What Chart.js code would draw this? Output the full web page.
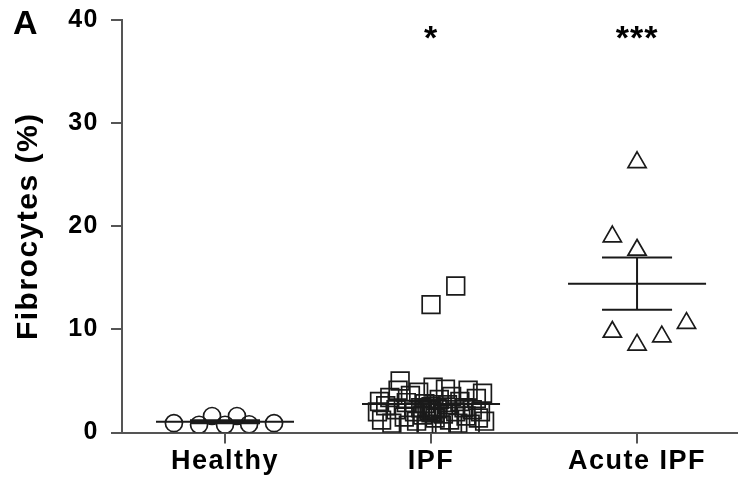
<!DOCTYPE html>
<html>
<head>
<meta charset="utf-8">
<script src="https://cdn.jsdelivr.net/npm/chart.js@4"></script>
<style>
  body { margin: 0; background: #fff; }
  #wrap { width: 738px; height: 485px; }
</style>
</head>
<body>
<div id="wrap"><canvas id="grafico" width="738" height="485"></canvas></div>
<script>
// categorias e valores
const categorias = ['Healthy', 'IPF', 'Acute IPF'];
const yTicks = [0, 10, 20, 30, 40];
const significancia = ['', '*', '***'];

const healthyValores = [0.9, 0.75, 1.6, 0.75, 1.6, 0.8, 0.9];
const healthyJitter  = [-0.248, -0.126, -0.063, 0, 0.058, 0.117, 0.238];

const ipfValores = [2.0, 3.0, 1.2, 2.6, 3.4, 0.9, 2.2, 4.1, 5.0, 1.5,
                    2.9, 0.7, 3.6, 2.0, 1.1, 3.9, 2.4, 1.7, 2.8, 0.8,
                    2.1, 1.9, 2.5, 4.4, 1.4, 2.3, 3.2, 0.7, 1.8, 4.2,
                    2.7, 1.2, 3.5, 2.0, 0.9, 3.0, 2.4, 1.6, 4.1, 0.8,
                    2.2, 3.3, 1.4, 2.0, 3.8, 1.1, 2.2, 1.9, 2.3, 2.0,
                    12.4, 14.2];
const ipfJitter  = [-0.26, -0.25, -0.24, -0.22, -0.20, -0.19, -0.17, -0.16, -0.15, -0.13,
                    -0.12, -0.11, -0.10, -0.08, -0.07, -0.06, -0.05, -0.04, -0.03, -0.02,
                    -0.01, 0.00, 0.00, 0.01, 0.02, 0.03, 0.04, 0.05, 0.06, 0.07,
                    0.08, 0.09, 0.10, 0.12, 0.13, 0.14, 0.16, 0.17, 0.18, 0.19,
                    0.20, 0.22, 0.23, 0.24, 0.25, 0.26, 0.00, 0.02, -0.02, 0.01,
                    0.00, 0.12];

const acuteValores = [26.2, 19.0, 17.7, 9.75, 8.5, 9.3, 10.6];
const acuteJitter  = [0, -0.12, 0, -0.12, 0, 0.12, 0.24];

const grupos = [
    { valores: healthyValores, jitter: healthyJitter, estilo: 'circle',   raio: 8.5 },
    { valores: ipfValores,     jitter: ipfJitter,     estilo: 'rect',     raio: 12.5 },
    { valores: acuteValores,   jitter: acuteJitter,   estilo: 'triangle', raio: 10.5 }
];

const COR = '#1a1a1a';
const FONTE = '"Liberation Sans", Arial, sans-serif';

function media(v) { return v.reduce((a, b) => a + b, 0) / v.length; }
function erroPadrao(v) {
    const m = media(v);
    const sd = Math.sqrt(v.reduce((a, b) => a + (b - m) ** 2, 0) / (v.length - 1));
    return sd / Math.sqrt(v.length);
}

// pontos + linha da média + barras de erro (SEM)
const datasets = [];
grupos.forEach((g, i) => {
    datasets.push({
        type: 'scatter',
        data: g.valores.map((v, k) => ({ x: i + g.jitter[k], y: v })),
        pointStyle: g.estilo,
        pointRadius: g.raio,
        pointBorderWidth: 1.7,
        pointBorderColor: COR,
        pointBackgroundColor: 'rgba(0,0,0,0)'
    });
    const m = media(g.valores), s = erroPadrao(g.valores);
    const lm = 0.335, lc = 0.17;
    datasets.push({
        type: 'line',
        data: [
            { x: i - lm, y: m }, { x: i + lm, y: m }, { x: i, y: null },
            { x: i - lc, y: m + s }, { x: i + lc, y: m + s }, { x: i, y: null },
            { x: i - lc, y: m - s }, { x: i + lc, y: m - s }, { x: i, y: null },
            { x: i, y: m + s }, { x: i, y: m - s }
        ],
        borderColor: COR,
        borderWidth: 2,
        pointRadius: 0,
        spanGaps: false,
        fill: false
    });
});

// a fonte da figura é mais larga: um pouco de espaçamento entre letras
const espacamento = {
    id: 'espacamento',
    beforeLayout(chart) { chart.ctx.letterSpacing = '1.5px'; },
    beforeDraw(chart) { chart.ctx.letterSpacing = '1.5px'; }
};

const textos = {
    id: 'textos',
    afterDatasetsDraw(chart) {
        const { ctx, scales: { x, y } } = chart;
        ctx.save();
        ctx.letterSpacing = '1px';
        ctx.fillStyle = '#000';
        ctx.textAlign = 'center';
        ctx.textBaseline = 'alphabetic';
        ctx.font = 'bold 34px ' + FONTE;
        significancia.forEach((s, i) => {
            if (s) ctx.fillText(s, x.getPixelForValue(i), y.getPixelForValue(37.2));
        });
        ctx.letterSpacing = '0px';
        ctx.textAlign = 'left';
        ctx.font = 'bold 34px ' + FONTE;
        ctx.fillText('A', 13, 34);
        ctx.restore();
    }
};

// sem folga automática dos rótulos: a área do gráfico vai até a borda
const semFolga = (s) => { s.getPadding = () => ({ left: 0, top: 0, right: 0, bottom: 0 }); };

new Chart(document.getElementById('grafico').getContext('2d'), {
    type: 'scatter',
    data: { datasets },
    options: {
        responsive: false,
        animation: false,
        layout: { autoPadding: false, padding: { top: 20, left: 11, right: 0, bottom: 0 } },
        plugins: { legend: { display: false }, tooltip: { enabled: false } },
        scales: {
            x: {
                type: 'linear',
                min: -0.5,
                max: 2.49,
                beforeUpdate: semFolga,
                afterBuildTicks: (s) => { s.ticks = categorias.map((c, i) => ({ value: i })); },
                afterFit: (s) => { s.height = 52.5; },
                ticks: {
                    color: '#000',
                    padding: 2,
                    maxRotation: 0,
                    font: { family: FONTE, size: 27, weight: 'bold' },
                    callback: (v) => categorias[v]
                },
                grid: { drawOnChartArea: false, drawTicks: true, tickLength: 11, color: '#555', lineWidth: 2 },
                border: { color: '#555', width: 2 }
            },
            y: {
                min: 0,
                max: 40,
                beforeUpdate: semFolga,
                afterBuildTicks: (s) => { s.ticks = yTicks.map(v => ({ value: v })); },
                afterFit: (s) => { s.width = 111; },
                ticks: {
                    color: '#000',
                    padding: 12,
                    font: { family: FONTE, size: 25, weight: 'bold' }
                },
                title: {
                    display: true,
                    text: 'Fibrocytes (%)',
                    color: '#000',
                    padding: 0,
                    font: { family: FONTE, size: 30, weight: 'bold' }
                },
                grid: { drawOnChartArea: false, drawTicks: true, tickLength: 11, color: '#555', lineWidth: 2 },
                border: { color: '#555', width: 2 }
            }
        }
    },
    plugins: [espacamento, textos]
});
</script>
</body>
</html>
